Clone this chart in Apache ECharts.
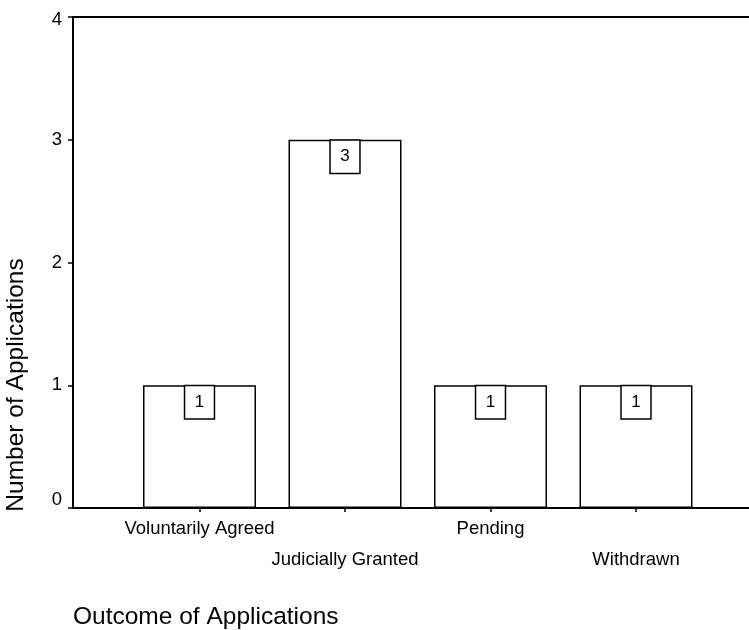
<!DOCTYPE html>
<html>
<head>
<meta charset="utf-8">
<script src="https://cdn.jsdelivr.net/npm/echarts@6/dist/echarts.min.js"></script>
<style>
  html, body { margin: 0; padding: 0; background: #fff; }
  #chart { width: 749px; height: 630px; }
</style>
</head>
<body>
<div id="chart"></div>
<script>
var outcomes = ['Voluntarily Agreed', 'Judicially Granted', 'Pending', 'Withdrawn'];
var applications = [1, 3, 1, 1];
var countTicks = [0, 1, 2, 3, 4];

var font = 'Liberation Sans, Arial, sans-serif';
var plotTop = 17, plotBottom = 122;
var yMin = countTicks[0], yMax = countTicks[countTicks.length - 1];

var option = {
    backgroundColor: '#fff',
    animation: false,
    textStyle: { fontFamily: font, color: '#000' },
    grid: [
        // frame: axis lines from the left axis to the page edge
        { left: 73, right: 0, top: plotTop, bottom: plotBottom },
        // bars: four category bands
        { left: 126.75, width: 582, top: plotTop, bottom: plotBottom }
    ],
    xAxis: [
        {
            type: 'value', gridIndex: 0, min: 0, max: 1, position: 'bottom',
            axisLine: { show: true, lineStyle: { color: '#000', width: 2 } },
            axisTick: { show: false }, axisLabel: { show: false }, splitLine: { show: false }
        },
        {
            type: 'value', gridIndex: 0, min: 0, max: 1, position: 'top',
            axisLine: { show: true, lineStyle: { color: '#000', width: 2 } },
            axisTick: { show: false }, axisLabel: { show: false }, splitLine: { show: false }
        },
        {
            type: 'category', gridIndex: 1, data: outcomes,
            axisLine: { show: false },
            axisTick: { show: true, alignWithLabel: true, length: 4, lineStyle: { color: '#000', width: 1.5 } },
            axisLabel: {
                interval: 0, margin: 5, fontSize: 18.5, lineHeight: 31, color: '#000', fontFamily: font,
                formatter: function (value, index) {
                    return index % 2 ? '\n' + value : value;
                }
            }
        }
    ],
    yAxis: [
        {
            type: 'value', gridIndex: 0, min: yMin, max: yMax, interval: 1,
            axisLine: { show: true, lineStyle: { color: '#000', width: 2 } },
            axisTick: { show: true, length: 5, lineStyle: { color: '#000', width: 1.5 } },
            axisLabel: {
                margin: 11, fontSize: 18.5, color: '#000', fontFamily: font,
                // end labels are pulled inside the frame
                formatter: function (value) {
                    if (value === yMin) return '{lo|' + value + '}';
                    if (value === yMax) return '{hi|' + value + '}';
                    return value;
                },
                rich: {
                    lo: { fontSize: 18.5, padding: [0, 0, 17, 0] },
                    hi: { fontSize: 18.5, padding: [5, 0, 0, 0] }
                }
            },
            splitLine: { show: false }
        },
        {
            type: 'value', gridIndex: 1, min: yMin, max: yMax,
            show: false
        }
    ],
    graphic: [
        {
            type: 'text', left: 73, top: 605,
            style: { text: 'Outcome of Applications', font: '24.5px ' + font, fill: '#000' }
        },
        {
            type: 'text', x: 16, y: 385, rotation: Math.PI / 2,
            style: {
                text: 'Number of Applications', font: '24.5px ' + font, fill: '#000',
                align: 'center', verticalAlign: 'middle'
            }
        }
    ],
    series: [
        {
            type: 'bar', xAxisIndex: 2, yAxisIndex: 1,
            data: applications,
            barWidth: 113,
            itemStyle: { color: '#fff', borderColor: '#000', borderWidth: 1.5 },
            label: {
                show: true, position: 'insideTop', distance: 1,
                fontSize: 17, lineHeight: 17, color: '#000', fontFamily: font,
                backgroundColor: '#fff', borderColor: '#000', borderWidth: 1.5,
                padding: [7.5, 9.5]
            }
        }
    ]
};

var chart = echarts.init(document.getElementById('chart'));
chart.setOption(option);
</script>
</body>
</html>
